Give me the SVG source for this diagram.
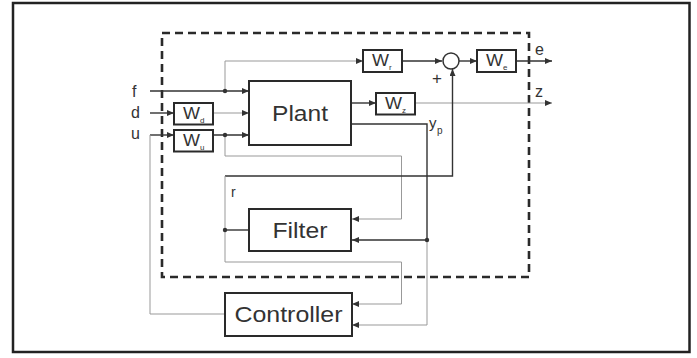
<svg xmlns="http://www.w3.org/2000/svg" width="697" height="358" viewBox="0 0 697 358">
<defs>
<style>
.box{fill:#fff;stroke:#2a2a2a;stroke-width:2}
.dk{fill:none;stroke:#333;stroke-width:1.4}
.gy{fill:none;stroke:#999;stroke-width:1}
.lbl{font-family:"Liberation Sans",Arial,sans-serif;fill:#333}
.big{font-size:22px}
.w{font-size:16px}
.sub{font-size:8px}
</style>
<marker id="ar" markerWidth="7" markerHeight="6" refX="7" refY="3" orient="auto" markerUnits="userSpaceOnUse">
<path d="M0,0 L7,3 L0,6 Z" fill="#333"/>
</marker>
</defs>
<rect x="0" y="0" width="697" height="358" fill="#fff"/>
<rect x="13" y="3" width="676.5" height="349" fill="none" stroke="#222" stroke-width="2.5"/>
<rect id="boundary" x="162" y="33" width="367" height="244" fill="none" stroke="#2a2a2a" stroke-width="2.6" stroke-dasharray="8 5"/>

<g id="connectors">
<path class="dk" d="M150,91 H249" marker-end="url(#ar)"/>
<path class="dk" d="M150,113 H174" marker-end="url(#ar)"/>
<path class="gy" d="M213,113 H249" marker-end="url(#ar)"/>
<path class="dk" d="M150,135 H174" marker-end="url(#ar)"/>
<path class="gy" d="M150,135 V314 H225"/>
<path class="dk" d="M213,135 H249" marker-end="url(#ar)"/>
<path class="gy" d="M225,135 V156 H401.5 V219 H352" marker-end="url(#ar)"/>
<path class="gy" d="M225,91 V61 H363" marker-end="url(#ar)"/>
<path class="dk" d="M402,61 H442" marker-end="url(#ar)"/>
<path class="dk" d="M459,61 H477" marker-end="url(#ar)"/>
<path class="dk" d="M516,61 H552" marker-end="url(#ar)"/>
<path class="dk" d="M351,103 H376" marker-end="url(#ar)"/>
<path class="gy" d="M415,103 H552" marker-end="url(#ar)"/>
<path class="dk" d="M351,124 H427 V240 H352" marker-end="url(#ar)"/>
<path class="gy" d="M427,240 V325 H352" marker-end="url(#ar)"/>
<path class="dk" d="M225,176 H452.5 V69" marker-end="url(#ar)"/>
<path class="gy" d="M225,176 V262 H401.5 V304 H352" marker-end="url(#ar)"/>
<path class="dk" d="M225,230 H249"/>
<circle cx="225" cy="91" r="2.2" fill="#333"/>
<circle cx="225" cy="135" r="2.2" fill="#333"/>
<circle cx="427" cy="240" r="2.2" fill="#333"/>
<circle cx="225" cy="230" r="2.2" fill="#333"/>
</g>

<g id="plant">
<rect class="box" x="249" y="81" width="102" height="64"/>
<text class="lbl big" x="300" y="121" text-anchor="middle" textLength="56" lengthAdjust="spacingAndGlyphs">Plant</text>
</g>
<g id="filter">
<rect class="box" x="249" y="209" width="102" height="42"/>
<text class="lbl big" x="300" y="238" text-anchor="middle" textLength="55" lengthAdjust="spacingAndGlyphs">Filter</text>
</g>
<g id="controller">
<rect class="box" x="225" y="293" width="127" height="43"/>
<text class="lbl big" x="288.5" y="322" text-anchor="middle" textLength="108" lengthAdjust="spacingAndGlyphs">Controller</text>
</g>
<g id="Wd">
<rect class="box" x="174" y="103" width="39" height="21.5"/>
<text class="lbl w" x="183" y="119" textLength="17" lengthAdjust="spacingAndGlyphs">W</text>
<text class="lbl sub" x="200" y="123">d</text>
</g>
<g id="Wu">
<rect class="box" x="174" y="130" width="39" height="21.5"/>
<text class="lbl w" x="183" y="146" textLength="17" lengthAdjust="spacingAndGlyphs">W</text>
<text class="lbl sub" x="200" y="150">u</text>
</g>
<g id="Wr">
<rect class="box" x="363" y="50" width="39" height="22"/>
<text class="lbl w" x="372" y="66" textLength="17" lengthAdjust="spacingAndGlyphs">W</text>
<text class="lbl sub" x="389" y="70">r</text>
</g>
<g id="sum">
<circle cx="451" cy="61" r="8" fill="#fff" stroke="#333" stroke-width="1.5"/>
<text class="lbl" x="437" y="84" text-anchor="middle" font-size="17">+</text>
</g>
<g id="We">
<rect class="box" x="477" y="50" width="39" height="22"/>
<text class="lbl w" x="486" y="66" textLength="17" lengthAdjust="spacingAndGlyphs">W</text>
<text class="lbl sub" x="503" y="70">e</text>
</g>
<g id="Wz">
<rect class="box" x="376" y="93" width="39" height="21.5"/>
<text class="lbl w" x="385" y="109" textLength="17" lengthAdjust="spacingAndGlyphs">W</text>
<text class="lbl sub" x="402" y="113">z</text>
</g>
<g id="labels">
<text class="lbl" x="132" y="97" font-size="16">f</text>
<text class="lbl" x="131" y="118" font-size="16">d</text>
<text class="lbl" x="131" y="139" font-size="16">u</text>
<text class="lbl" x="535" y="55" font-size="16">e</text>
<text class="lbl" x="535" y="97" font-size="16">z</text>
<text class="lbl" x="429" y="128" font-size="15">y</text>
<text class="lbl" x="437" y="134" font-size="10">p</text>
<text class="lbl" x="231" y="197" font-size="14">r</text>
</g>
</svg>
